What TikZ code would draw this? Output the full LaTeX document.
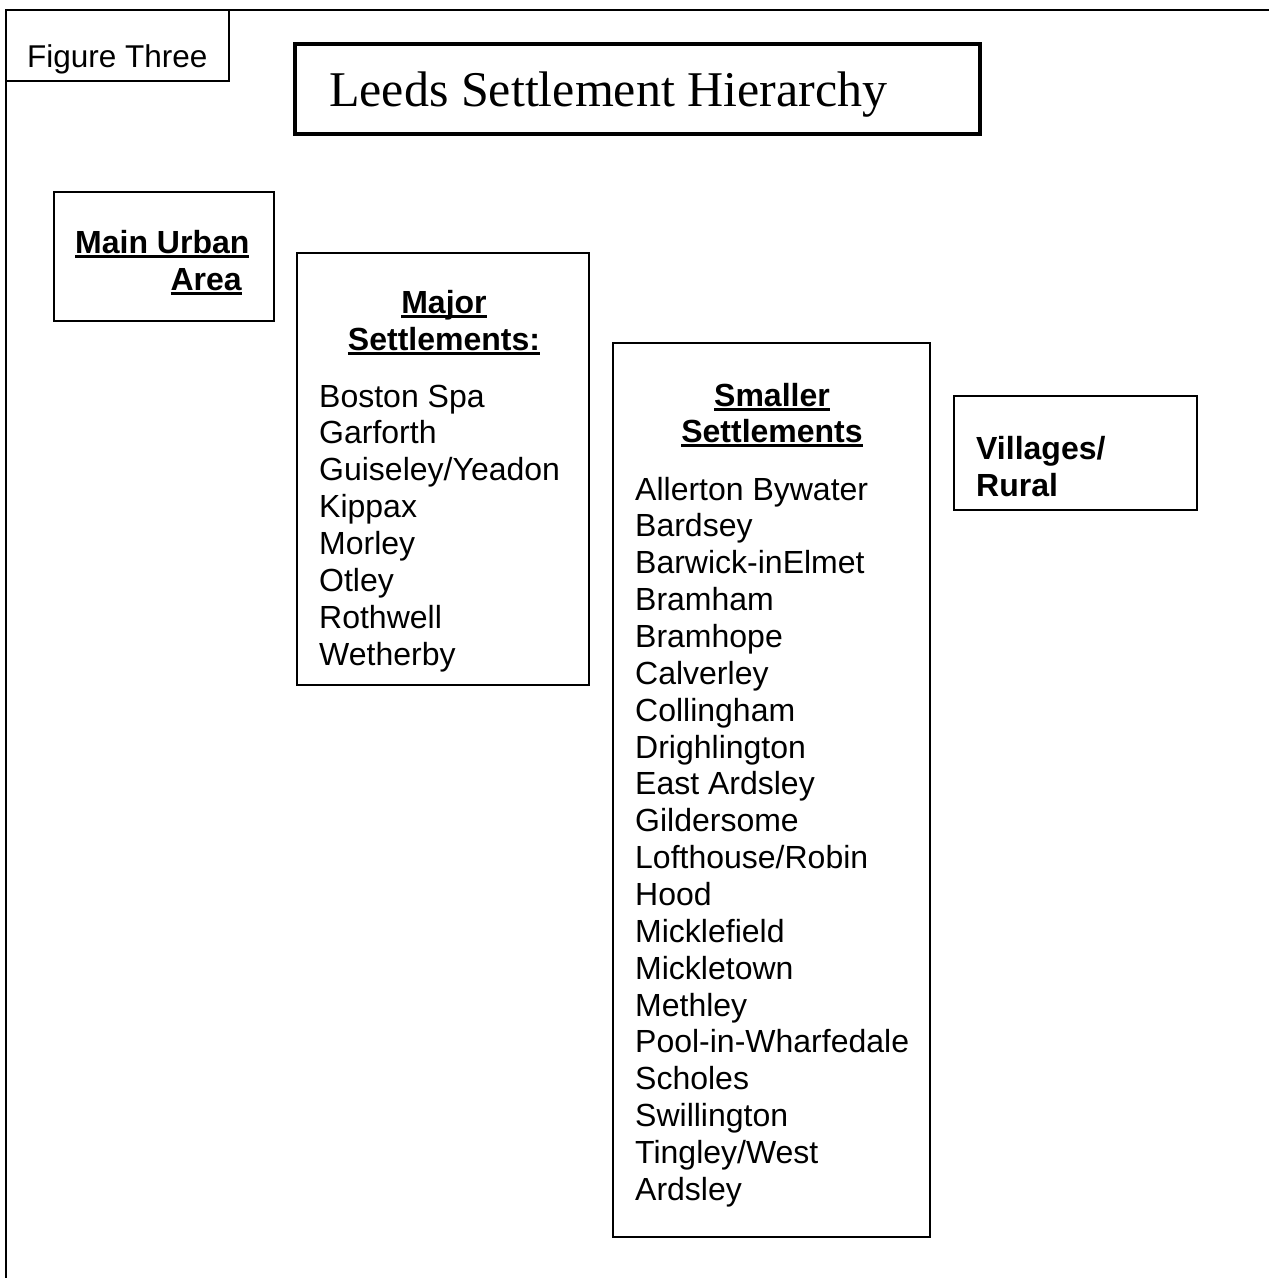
\documentclass[tikz,border=0pt]{standalone}
\usepackage{fontspec}
\setmainfont{Liberation Serif}
\setsansfont{Liberation Sans}
\newsavebox\myulbox
\newcommand\myul[1]{\sbox\myulbox{#1}\rlap{\rule[-5pt]{\wd\myulbox}{2.6pt}}\usebox\myulbox}
\tikzset{
  boxline/.style={draw=black, line width=2pt},
  titleline/.style={draw=black, line width=3.5pt},
  lst/.style={anchor=base west, inner sep=0pt, font=\sffamily\fontsize{32}{36.9}\selectfont},
  hdr/.style={anchor=base, inner sep=0pt, font=\sffamily\bfseries\fontsize{32}{36.9}\selectfont},
}
\begin{document}
\begin{tikzpicture}[x=1pt, y=-1pt]
\useasboundingbox (0,0) rectangle (1269,1278);
% outer frame
\draw[boxline] (1269,10) -- (6,10) -- (6,1278);
% Figure Three
\draw[boxline] (6,10) rectangle (229,81);
\node[lst, font=\sffamily\fontsize{31.5}{36}\selectfont] (fig) at (27,67) {Figure Three};
% Title
\draw[titleline] (295,44) rectangle (980,134);
\node[anchor=base west, inner sep=0pt, font=\rmfamily\fontsize{50}{58}\selectfont] (title) at (329,106) {Leeds Settlement Hierarchy};
% Main Urban Area
\draw[boxline] (54,192) rectangle (274,321);
\node[hdr, anchor=base west] (mua1) at (75,253) {\myul{Main Urban}};
\node[hdr, anchor=base east] (mua2) at (242,290) {\myul{Area}};
% Major settlements
\draw[boxline] (297,253) rectangle (589,685);
\node[hdr] (maj1) at (444,313) {\myul{Major}};
\node[hdr] (maj2) at (444,350) {\myul{Settlements:}};
\foreach \t [count=\i] in {Boston Spa,Garforth,Guiseley/Yeadon,Kippax,Morley,Otley,Rothwell,Wetherby}
  \node[lst] (majl\i) at (319,{407+36.9*(\i-1)}) {\t};
% Smaller settlements
\draw[boxline] (613,343) rectangle (930,1237);
\node[hdr] (sm1) at (772,406) {\myul{Smaller}};
\node[hdr] (sm2) at (772,442) {\myul{Settlements}};
\foreach \t [count=\i] in {Allerton Bywater,Bardsey,Barwick-inElmet,Bramham,Bramhope,Calverley,Collingham,Drighlington,East Ardsley,Gildersome,Lofthouse/Robin,Hood,Micklefield,Mickletown,Methley,Pool-in-Wharfedale,Scholes,Swillington,Tingley/West,Ardsley}
  \node[lst] (sml\i) at (635,{500+36.86*(\i-1)}) {\t};
% Villages / Rural
\draw[boxline] (954,396) rectangle (1197,510);
\node[hdr, anchor=base west] (vil1) at (976,459) {Villages/};
\node[hdr, anchor=base west] (vil2) at (976,496) {Rural};
\end{tikzpicture}
\end{document}
